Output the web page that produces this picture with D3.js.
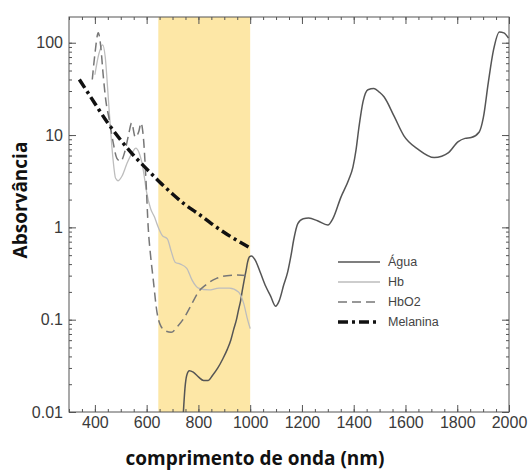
<!DOCTYPE html>
<html>
<head>
<meta charset="utf-8">
<script src="https://cdn.jsdelivr.net/npm/d3@7"></script>
<style>
  body { margin: 0; background: #fff; }
  .axis text { font-family: "Liberation Sans", Arial, sans-serif; font-size: 16px; fill: #3a3a3a; }
  .axis path { display: none; }
  .axis line { stroke: #555; }
  .title { font-family: "Open Sans", sans-serif; font-weight: bold; font-size: 19px; fill: #111; }
  .legend text { font-family: "Liberation Sans", Arial, sans-serif; font-size: 12.5px; fill: #444; }
</style>
</head>
<body>
<svg width="531" height="471"></svg>
<script>
// wavelength (nm) / absorbance pairs
var agua = [[742,0.01],[748,0.018],[755,0.025],[765,0.028],[780,0.027],[800,0.024],[820,0.022],[838,0.022],[855,0.025],
  [875,0.03],[895,0.038],[912,0.048],[925,0.06],[936,0.078],[947,0.1],[955,0.128],[963,0.16],[970,0.21],[977,0.27],
  [984,0.34],[990,0.42],[997,0.48],[1005,0.49],[1020,0.44],[1040,0.32],[1060,0.23],[1079,0.18],[1098,0.14],[1112,0.16],
  [1130,0.24],[1145,0.33],[1158,0.5],[1168,0.73],[1184,1.1],[1205,1.24],[1226,1.26],[1260,1.18],[1300,1.06],[1320,1.25],
  [1350,2.1],[1381,3.3],[1397,4.5],[1409,6.9],[1420,12],[1436,23],[1455,31],[1478,32],[1500,29],[1517,26],[1556,16],
  [1594,9.8],[1649,7],[1711,5.7],[1740,5.9],[1765,6.4],[1804,8.5],[1830,9.2],[1854,9.4],[1885,10.8],[1901,15.5],
  [1920,37],[1940,83],[1963,131],[1980,128],[1998,112]];
var hb = [[400,45],[415,75],[430,95],[440,70],[450,30],[460,12],[470,5.5],[480,3.4],[490,3.2],[505,3.6],[525,5],
  [545,6.5],[558,7.2],[570,6.5],[585,4.5],[600,2.4],[615,1.6],[630,1.3],[645,1.0],[660,0.82],[680,0.75],[695,0.55],
  [710,0.42],[730,0.4],[755,0.36],[775,0.27],[800,0.22],[840,0.21],[880,0.22],[920,0.22],[955,0.2],[975,0.15],
  [990,0.1],[1000,0.08]];
var hbo2 = [[390,40],[400,75],[413,128],[422,95],[432,45],[442,24],[455,15],[470,8.5],[485,5.6],[500,5.2],[515,6.5],
  [530,10],[542,13.5],[556,9.5],[570,11],[578,13.5],[588,9],[598,3],[606,1.0],[615,0.5],[625,0.28],[640,0.12],
  [655,0.085],[675,0.075],[695,0.073],[720,0.085],[745,0.105],[770,0.14],[800,0.2],[830,0.24],[870,0.28],[910,0.3],
  [950,0.305],[990,0.3],[1000,0.29]];
var melanina = [[340,40],[400,22],[450,13.5],[500,8.8],[550,6.0],[600,4.3],[650,3.1],[700,2.3],[750,1.75],
  [800,1.4],[850,1.1],[900,0.88],[950,0.72],[1000,0.6]];
var banda = [645, 1000];
var xTicks = [400,600,800,1000,1200,1400,1600,1800,2000];
var yTicks = [0.01,0.1,1,10,100];
var nomes = ["Água","Hb","HbO2","Melanina"];

var svg = d3.select("svg");
var margin = {"top":17,"right":22,"bottom":59,"left":69};
var width = +svg.attr("width") - margin.left - margin.right;
var height = +svg.attr("height") - margin.top - margin.bottom;
var g = svg.append("g").attr("transform","translate("+margin.left+","+margin.top+")");

var x = d3.scaleLinear().domain([300,2000]).range([0,width]);
var y = d3.scaleLog().domain([0.01,190]).range([height,0]);

// highlighted band
g.append("rect")
  .attr("x",x(banda[0])).attr("width",x(banda[1])-x(banda[0]))
  .attr("y",0).attr("height",height)
  .attr("fill","#fde7a6");

var clip = svg.append("clipPath").attr("id","clip").append("rect").attr("width",width).attr("height",height);

var line = d3.line().x(function(d){return x(d[0]);}).y(function(d){return y(d[1]);}).curve(d3.curveMonotoneX);

var estilos = [
  {data:agua, stroke:"#555", w:1.5, dash:null},
  {data:hb, stroke:"#bdbdbd", w:1.3, dash:null},
  {data:hbo2, stroke:"#777", w:1.5, dash:"9,5"},
  {data:melanina, stroke:"#111", w:3.5, dash:"10,4,3,4"}
];

estilos.forEach(function(s){
  g.append("path").datum(s.data)
    .attr("clip-path","url(#clip)")
    .attr("fill","none")
    .attr("stroke",s.stroke)
    .attr("stroke-width",s.w)
    .attr("stroke-dasharray",s.dash)
    .attr("d",line);
});

// axes with inward ticks
var minorX = d3.range(300,2001,50);
var minorY = y.ticks();

g.append("g").attr("class","axis").attr("transform","translate(0,"+height+")")
  .call(d3.axisBottom(x).tickValues(minorX).tickSize(-3).tickFormat(""));
g.append("g").attr("class","axis").attr("transform","translate(0,"+height+")")
  .call(d3.axisBottom(x).tickValues(xTicks).tickSize(-7).tickPadding(5).tickFormat(d3.format("d")));
g.append("g").attr("class","axis")
  .call(d3.axisTop(x).tickValues(minorX).tickSize(-3).tickFormat(""));
g.append("g").attr("class","axis")
  .call(d3.axisTop(x).tickValues(xTicks).tickSize(-7).tickFormat(""));

g.append("g").attr("class","axis")
  .call(d3.axisLeft(y).tickValues(minorY).tickSize(-3).tickFormat(""));
g.append("g").attr("class","axis")
  .call(d3.axisLeft(y).tickValues(yTicks).tickSize(-7).tickPadding(6).tickFormat(function(d){return d3.format("~g")(d);}));
g.append("g").attr("class","axis").attr("transform","translate("+width+",0)")
  .call(d3.axisRight(y).tickValues(minorY).tickSize(-3).tickFormat(""));
g.append("g").attr("class","axis").attr("transform","translate("+width+",0)")
  .call(d3.axisRight(y).tickValues(yTicks).tickSize(-7).tickFormat(""));

g.append("rect").attr("width",width).attr("height",height)
  .attr("fill","none").attr("stroke","#555").attr("stroke-width",1);

// legend
var leg = g.append("g").attr("class","legend").attr("transform","translate(269,245)");
estilos.forEach(function(s,i){
  leg.append("line").attr("x1",0).attr("x2",42).attr("y1",i*20).attr("y2",i*20)
    .attr("stroke",s.stroke).attr("stroke-width",s.w).attr("stroke-dasharray",s.dash);
  leg.append("text").attr("x",50).attr("y",i*20).attr("dy","0.35em").text(nomes[i]);
});

// titles
svg.append("text").attr("class","title").attr("text-anchor","middle")
  .attr("x",255).attr("y",465).text("comprimento de onda (nm)");
svg.append("text").attr("class","title").attr("text-anchor","middle")
  .attr("transform","translate(27,200) rotate(-90)").text("Absorvância");
</script>
</body>
</html>
